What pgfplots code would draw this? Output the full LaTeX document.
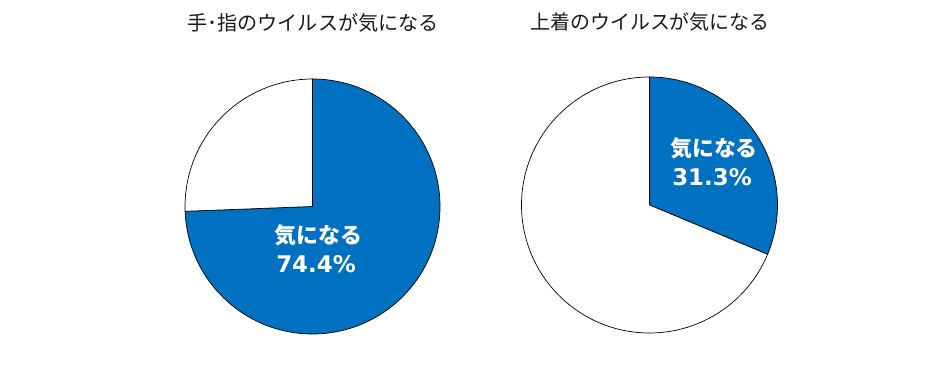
\documentclass[border=0pt]{standalone}
\usepackage{fontspec}
\usepackage{pgfplots}
\pgfplotsset{compat=1.18}
\usepackage{pgfplotstable}
\newfontfamily\jp{Noto Sans CJK JP}
\newfontfamily\num{DejaVu Sans}
\definecolor{pieblue}{RGB}{0,112,192}
% pie data: centre (px), radius, share of "気になる" in percent
\pgfplotstableread{
cx cy r value
312.5 164.5 127.5 74.4
649.5 166.0 128.0 31.3
}\pies
\begin{document}
\begin{tikzpicture}
\begin{axis}[width=951bp,height=371bp,scale only axis,
  xmin=0,xmax=951,ymin=0,ymax=371,hide axis,clip=false]
\path (axis cs:0,0) rectangle (axis cs:951,371);
\pgfplotsforeachungrouped \i in {0,1}{
  \pgfplotstablegetelem{\i}{cx}\of\pies \let\cx\pgfplotsretval
  \pgfplotstablegetelem{\i}{cy}\of\pies \let\cy\pgfplotsretval
  \pgfplotstablegetelem{\i}{r}\of\pies \let\rr\pgfplotsretval
  \pgfplotstablegetelem{\i}{value}\of\pies \let\vv\pgfplotsretval
  \pgfmathsetmacro{\ea}{90-3.6*\vv}
  \pgfmathsetmacro{\eb}{90+3.6*(100-\vv)}
  \edef\cmd{%
  \noexpand\filldraw[fill=pieblue,draw=black,line width=0.7bp,line join=round]
    (axis cs:\cx,\cy) -- ++(90:\rr bp) arc[start angle=90,end angle=\ea,radius=\rr bp] -- cycle;
  \noexpand\filldraw[fill=white,draw=black,line width=0.7bp,line join=round]
    (axis cs:\cx,\cy) -- ++(90:\rr bp) arc[start angle=90,end angle=\eb,radius=\rr bp] -- cycle;}%
  \cmd
}
\node[font=\jp\fontsize{20.2}{24}\selectfont,text=black!90] at (axis cs:313,348.5) {手･指のウイルスが気になる};
\node[font=\jp\fontsize{20}{24}\selectfont,text=black!90] at (axis cs:650,349) {上着のウイルスが気になる};
\node[font=\jp\bfseries\fontsize{22}{26}\selectfont,text=white] at (axis cs:318.5,136) {気になる};
\node[font=\num\bfseries\fontsize{23}{27}\selectfont,text=white] at (axis cs:316,107) {74.4\%};
\node[font=\jp\bfseries\fontsize{22}{26}\selectfont,text=white] at (axis cs:714,223) {気になる};
\node[font=\num\bfseries\fontsize{23}{27}\selectfont,text=white] at (axis cs:712,194) {31.3\%};
\end{axis}
\end{tikzpicture}
\end{document}
